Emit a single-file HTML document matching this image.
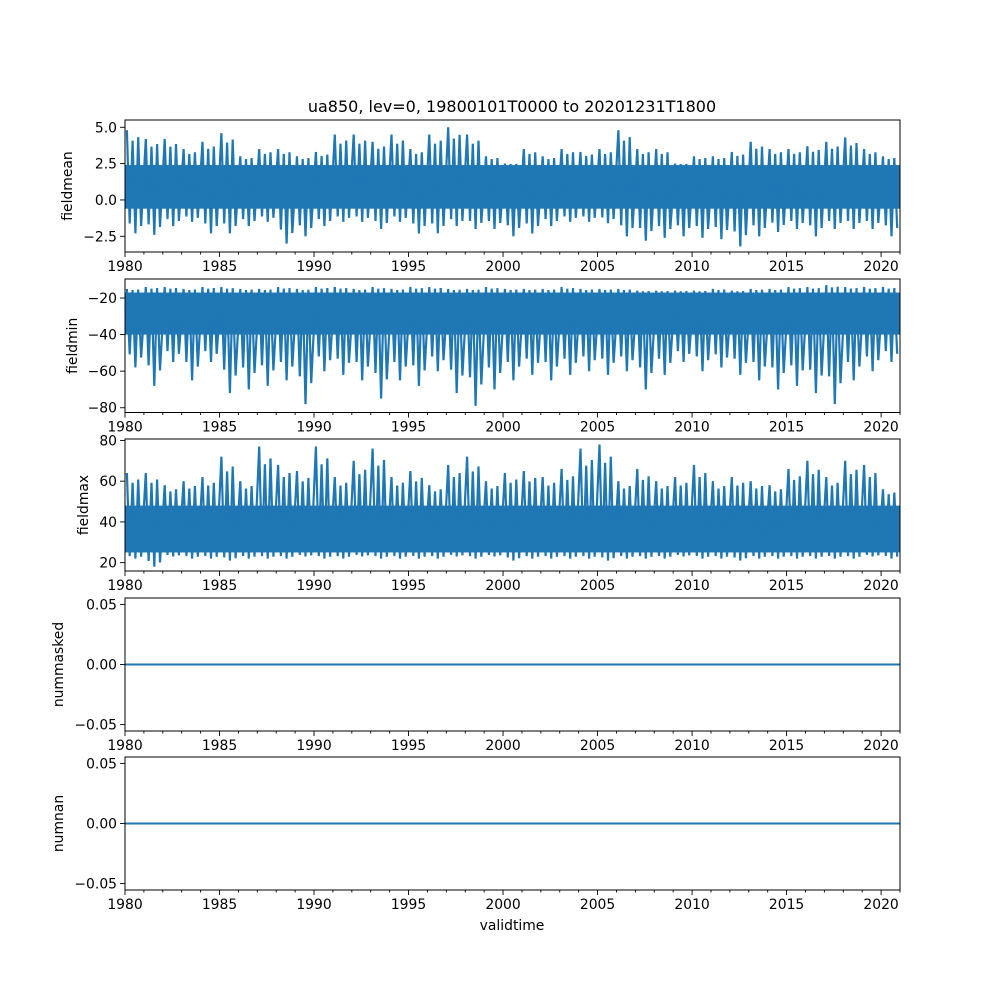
<!DOCTYPE html>
<html><head><meta charset="utf-8"><style>
html,body{margin:0;padding:0;background:#fff}
svg{display:block;font-family:"DejaVu Sans","Liberation Sans",sans-serif}
</style></head><body>
<svg id="fig" width="1000" height="1000" viewBox="0 0 1000 1000" xmlns="http://www.w3.org/2000/svg">
<rect width="1000" height="1000" fill="#fff"/>
<text x="512" y="112" font-size="16" text-anchor="middle">ua850, lev=0, 19800101T0000 to 20201231T1800</text>
<text x="512" y="930" font-size="13.9" text-anchor="middle">validtime</text>
</svg>
<script>
const years = [1980,1981,1982,1983,1984,1985,1986,1987,1988,1989,1990,1991,1992,1993,1994,1995,1996,1997,1998,1999,2000,2001,2002,2003,2004,2005,2006,2007,2008,2009,2010,2011,2012,2013,2014,2015,2016,2017,2018,2019,2020];
const meanHi = [4.8,4.2,4.2,3.5,4.0,4.6,3.0,3.5,3.5,3.0,3.3,4.5,4.5,4.0,4.5,3.5,4.5,5.0,4.5,3.0,2.5,3.5,3.0,3.5,3.3,3.5,4.8,3.5,3.5,2.5,3.0,3.0,3.3,4.0,3.5,3.5,3.7,4.0,4.3,3.5,3.0];
const meanLo = [-2.3,-2.4,-1.8,-1.5,-2.3,-2.3,-1.8,-1.5,-3.0,-2.5,-1.8,-1.5,-1.5,-2.0,-1.5,-2.3,-2.3,-1.8,-2.0,-2.0,-2.5,-2.3,-1.8,-1.5,-1.5,-1.6,-2.5,-2.8,-2.6,-2.5,-2.6,-2.7,-3.2,-2.5,-2.2,-2.0,-2.5,-2.0,-2.0,-2.0,-2.5];
const meanCore = [-0.6, 2.4];
const minHi = [-15,-14,-14,-15,-14,-14,-15,-15,-14,-15,-14,-14,-15,-14,-15,-14,-14,-15,-15,-14,-15,-15,-15,-14,-15,-15,-15,-16,-16,-16,-16,-15,-16,-15,-15,-14,-14,-13,-14,-14,-14];
const minLo = [-58,-68,-55,-65,-55,-72,-70,-68,-65,-78,-60,-62,-65,-75,-65,-68,-60,-72,-79,-70,-65,-62,-65,-62,-60,-62,-60,-70,-62,-55,-60,-58,-62,-65,-70,-68,-72,-78,-65,-60,-55];
const minCore = [-40, -17];
const maxHi = [64,64,58,60,62,72,60,77,68,65,77,62,70,76,62,65,58,68,72,60,64,65,62,66,76,78,60,66,60,62,68,60,62,60,58,66,70,62,70,68,56];
const maxLo = [22,18,23,22,22,21,22,22,22,23,22,22,23,22,22,22,22,23,22,23,21,22,22,22,22,21,22,22,22,23,22,22,21,22,22,22,22,22,22,23,22];
const maxCore = [25, 48];
const zeroVals = [0, 0];

const NS="http://www.w3.org/2000/svg";
const svg=document.getElementById('fig');
const X0=125,X1=900,T0=1980,T1=2021;
const xs=t=>X0+(t-T0)/(T1-T0)*(X1-X0);
const C="#1f77b4";
function mk(tag,attrs,parent){const e=document.createElementNS(NS,tag);for(const k in attrs)e.setAttribute(k,attrs[k]);(parent||svg).appendChild(e);return e;}

const panels=[
 {name:'fieldmean',top:120,bot:252,lo:-3.58,hi:5.5,ticks:[-2.5,0,2.5,5],fmt:v=>v.toFixed(1),H:meanHi,L:meanLo,core:meanCore},
 {name:'fieldmin',top:279,bot:412.5,lo:-82.6,hi:-9.6,ticks:[-80,-60,-40,-20],fmt:v=>String(v),H:minHi,L:minLo,core:minCore},
 {name:'fieldmax',top:439,bot:571,lo:15.9,hi:80.7,ticks:[20,40,60,80],fmt:v=>String(v),H:maxHi,L:maxLo,core:maxCore},
 {name:'nummasked',top:598,bot:731,lo:-0.0553,hi:0.0553,ticks:[-0.05,0,0.05],fmt:v=>v.toFixed(2),zero:true},
 {name:'numnan',top:757,bot:890,lo:-0.0553,hi:0.0553,ticks:[-0.05,0,0.05],fmt:v=>v.toFixed(2),zero:true}
];
panels.forEach(p=>{
 const g=mk('g',{});
 
 
 const ys=v=>p.bot-(v-p.lo)/(p.hi-p.lo)*(p.bot-p.top);
 const cid='clip-'+p.name;
 const cp=mk('clipPath',{id:cid},g);mk('rect',{x:X0,y:p.top,width:X1-X0,height:p.bot-p.top},cp);
 const dg=mk('g',{'clip-path':'url(#'+cid+')'},g);
 if(p.zero){
  const l=mk('line',{x1:X0,x2:X1,y1:ys(zeroVals[0]),y2:ys(zeroVals[1]),stroke:C,'stroke-width':2},dg);
  
  
 } else {
  const band=mk('rect',{x:X0,width:X1-X0,y:ys(p.core[1]),height:ys(p.core[0])-ys(p.core[1]),fill:C},dg);
  
  
  let d='';
  years.forEach((yr,i)=>{
   const sub=[[0.1,p.H[i]],[0.25,p.L[i]*0.6+p.core[0]*0.4],[0.4,p.H[i]*0.7+p.core[1]*0.3],[0.55,p.L[i]],[0.7,p.H[i]*0.8+p.core[1]*0.2],[0.85,p.L[i]*0.7+p.core[0]*0.3]];
   sub.forEach(([f,v])=>{d+=(d?'L':'M')+xs(yr+f).toFixed(1)+','+ys(v).toFixed(1);});
  });
  const pl=mk('path',{d:d,fill:'none',stroke:C,'stroke-width':2.2,'stroke-linejoin':'miter'},dg);
  
  
 }
 const fr=mk('rect',{x:X0,y:p.top,width:X1-X0,height:p.bot-p.top,fill:'none',stroke:'#000','stroke-width':1},g);
 
 
 for(let yr=1980;yr<=2021;yr++){
  const x=xs(yr);const major=(yr%5===0&&yr<=2020);
  mk('line',{x1:x,x2:x,y1:p.bot,y2:p.bot+(major?5:2.5),stroke:'#000','stroke-width':0.9},g);
  if(major){const t=mk('text',{x:x,y:p.bot+19,'font-size':13.9,'text-anchor':'middle'},g);t.textContent=yr;
   
   }
 }
 p.ticks.forEach(v=>{
  const y=ys(v);
  mk('line',{x1:X0-5,x2:X0,y1:y,y2:y,stroke:'#000','stroke-width':0.9},g);
  const t=mk('text',{x:X0-8,y:y+5,'font-size':13.9,'text-anchor':'end'},g);
  t.textContent=p.fmt(v).replace('-','\u2212');
  
  
 });
 const lx=p.zero?63:(p.name==='fieldmean'?72:(p.name==='fieldmin'?77:88));
 const cy=(p.top+p.bot)/2;
 const yl=mk('text',{x:lx,y:cy,'font-size':13.9,'text-anchor':'middle',transform:'rotate(-90 '+lx+' '+cy+')'},g);
 yl.textContent=p.name;
 
 
});
</script>
</body></html>
